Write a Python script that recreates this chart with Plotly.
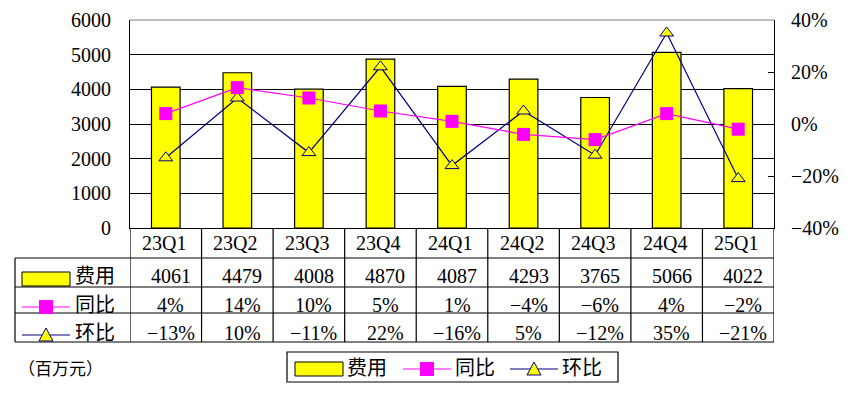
import plotly.graph_objects as go

categories = ["23Q1", "23Q2", "23Q3", "23Q4", "24Q1", "24Q2", "24Q3", "24Q4", "25Q1"]
expense = [4061, 4479, 4008, 4870, 4087, 4293, 3765, 5066, 4022]
yoy = [4, 14, 10, 5, 1, -4, -6, 4, -2]
qoq = [-13, 10, -11, 22, -16, 5, -12, 35, -21]
series_names = ["费用", "同比", "环比"]
unit_label = "（百万元）"
left_ticks = [0, 1000, 2000, 3000, 4000, 5000, 6000]
right_ticks = [-40, -20, 0, 20, 40]

YELLOW = "#FFFF00"
MAGENTA = "#FF00FF"
NAVY = "#000080"
FONT = "Liberation Serif, Noto Sans CJK SC, serif"
FS = 20

W, H = 854, 398
OFF = 8  # page offset of the figure in the screenshot
# plot area in screenshot pixels: x 130..774, y 20..228
L, T = 130 - OFF, 20 - OFF
R = W - (774 - OFF)
B = H - (228 - OFF)
PW = W - L - R
PH = H - T - B


def fx(x):
    return (x - OFF - L) / PW


def fy(y):
    return (T + PH - (y - OFF)) / PH


def pct(v):
    s = f"{abs(v)}%"
    return ("−" + s) if v < 0 else s


fig = go.Figure()
fig.add_trace(go.Bar(
    x=categories, y=expense, name=series_names[0], width=0.4,
    marker=dict(color=YELLOW, line=dict(color="black", width=1.2)),
    yaxis="y", showlegend=False,
))
fig.add_trace(go.Scatter(
    x=categories, y=qoq, name=series_names[2], mode="lines+markers",
    line=dict(color=NAVY, width=1.2),
    marker=dict(symbol="triangle-up", size=12, color=YELLOW, line=dict(color=NAVY, width=1)),
    yaxis="y2", showlegend=False,
))
fig.add_trace(go.Scatter(
    x=categories, y=yoy, name=series_names[1], mode="lines+markers",
    line=dict(color=MAGENTA, width=1.2),
    marker=dict(symbol="square", size=13, color=MAGENTA, line=dict(width=0)),
    yaxis="y2", showlegend=False,
))

shapes = []
annotations = []

# top border (gray)
shapes.append(dict(type="line", xref="paper", yref="paper", x0=0, x1=1, y0=1, y1=1,
                   line=dict(color="#808080", width=1.2), layer="above"))

# table grid
row_lines = [258, 287, 313, 342]
for yy in row_lines:
    shapes.append(dict(type="line", xref="paper", yref="paper", x0=fx(15), x1=1,
                       y0=fy(yy), y1=fy(yy), line=dict(color="black", width=1.2)))
shapes.append(dict(type="line", xref="paper", yref="paper", x0=fx(15), x1=fx(15),
                   y0=fy(258), y1=fy(342), line=dict(color="black", width=1.2)))
for i in range(len(categories) + 1):
    shapes.append(dict(type="line", xref="x", yref="paper", x0=i - 0.5, x1=i - 0.5,
                       y0=0, y1=fy(342), line=dict(color="black", width=1.2)))

# category row + values
row_y = {"cat": 243, "exp": 276, "yoy": 305, "qoq": 333}
for i, c in enumerate(categories):
    annotations.append(dict(x=c, xref="x", y=fy(row_y["cat"]), yref="paper", text=c,
                            showarrow=False, xshift=-2, yanchor="middle",
                            font=dict(family=FONT, size=FS, color="black")))
    annotations.append(dict(x=c, xref="x", y=fy(row_y["exp"]), yref="paper", text=str(expense[i]),
                            showarrow=False, xshift=5, yanchor="middle",
                            font=dict(family=FONT, size=FS, color="black")))
    annotations.append(dict(x=c, xref="x", y=fy(row_y["yoy"]), yref="paper", text=pct(yoy[i]),
                            showarrow=False, xshift=5, yanchor="middle",
                            font=dict(family=FONT, size=FS, color="black")))
    annotations.append(dict(x=c, xref="x", y=fy(row_y["qoq"]), yref="paper", text=pct(qoq[i]),
                            showarrow=False, xshift=5, yanchor="middle",
                            font=dict(family=FONT, size=FS, color="black")))


def key_bar(x0, yc):
    shapes.append(dict(type="rect", xref="paper", yref="paper", x0=fx(x0), x1=fx(x0 + 48),
                       y0=fy(yc + 7), y1=fy(yc - 7), fillcolor=YELLOW,
                       line=dict(color="black", width=1)))


def key_square(x0, yc):
    shapes.append(dict(type="line", xref="paper", yref="paper", x0=fx(x0), x1=fx(x0 + 48),
                       y0=fy(yc), y1=fy(yc), line=dict(color=MAGENTA, width=1.2)))
    cx = x0 + 24
    shapes.append(dict(type="rect", xref="paper", yref="paper", x0=fx(cx - 7), x1=fx(cx + 7),
                       y0=fy(yc + 7), y1=fy(yc - 7), fillcolor=MAGENTA, line=dict(width=0)))


def key_triangle(x0, yc):
    shapes.append(dict(type="line", xref="paper", yref="paper", x0=fx(x0), x1=fx(x0 + 48),
                       y0=fy(yc), y1=fy(yc), line=dict(color=NAVY, width=1.2)))
    cx = x0 + 24
    path = (f"M {fx(cx - 7)},{fy(yc + 6)} L {fx(cx)},{fy(yc - 7)} "
            f"L {fx(cx + 7)},{fy(yc + 6)} Z")
    shapes.append(dict(type="path", xref="paper", yref="paper", path=path,
                       fillcolor=YELLOW, line=dict(color=NAVY, width=1)))


def key_text(x0, yc, txt):
    annotations.append(dict(x=fx(x0), xref="paper", y=fy(yc), yref="paper", text=txt,
                            showarrow=False, xanchor="left", yanchor="middle",
                            font=dict(family=FONT, size=FS, color="black")))


# table keys
key_bar(22, 279)
key_text(73, 276, series_names[0])
key_square(22, 307)
key_text(73, 305, series_names[1])
key_triangle(22, 335)
key_text(73, 333, series_names[2])

# bottom legend
shapes.append(dict(type="rect", xref="paper", yref="paper", x0=fx(287), x1=fx(618),
                   y0=fy(382), y1=fy(352), line=dict(color="black", width=1.2)))
key_bar(295, 369)
key_text(345, 368, series_names[0])
key_square(403, 369)
key_text(453, 368, series_names[1])
key_triangle(510, 369)
key_text(560, 368, series_names[2])

# unit label
annotations.append(dict(x=fx(16), xref="paper", y=fy(369), yref="paper", text=unit_label,
                        showarrow=False, xanchor="left", yanchor="middle",
                        font=dict(family=FONT, size=17, color="black")))

fig.update_layout(
    width=W, height=H,
    margin=dict(l=L, r=R, t=T, b=B, pad=0, autoexpand=False),
    paper_bgcolor="white", plot_bgcolor="white",
    xaxis=dict(type="category", range=[-0.5, len(categories) - 0.5], showticklabels=False,
               ticks="", showgrid=False, showline=True, linecolor="black", linewidth=1.2,
               zeroline=False),
    yaxis=dict(range=[0, 6000], tickvals=left_ticks, showgrid=True, gridcolor="black",
               gridwidth=1.2, showline=True, linecolor="black", linewidth=1.2, ticks="",
               zeroline=False, ticklabelstandoff=14,
               tickfont=dict(family=FONT, size=FS, color="black")),
    yaxis2=dict(range=[-40, 40], tickvals=right_ticks, ticktext=[pct(v) for v in right_ticks],
                overlaying="y",
                side="right", showgrid=False, showline=True, linecolor="black", linewidth=1.2,
                ticks="inside", ticklen=6, tickcolor="black", zeroline=False,
                ticklabelstandoff=12,
                tickfont=dict(family=FONT, size=FS, color="black")),
    shapes=shapes,
    annotations=annotations,
    showlegend=False,
)

fig.write_html("out.html")
